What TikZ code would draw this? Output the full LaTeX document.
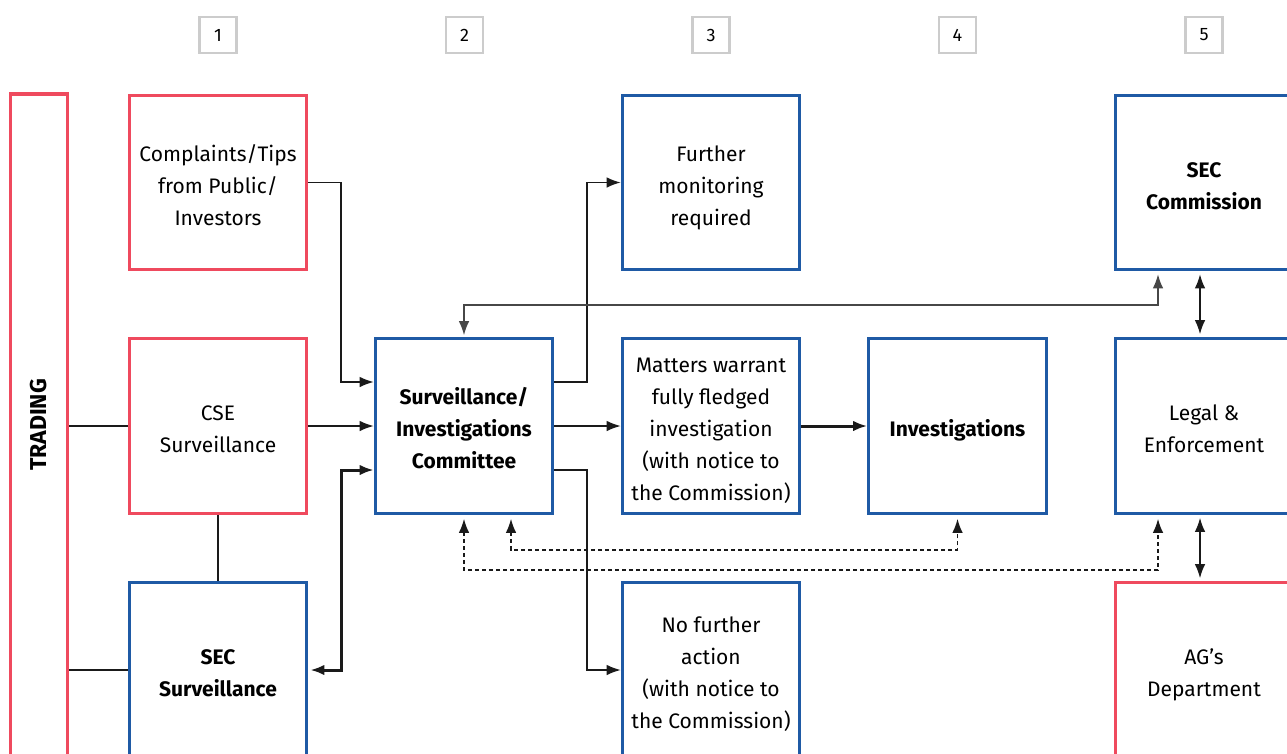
\documentclass[tikz,border=0pt]{standalone}
\usepackage{fontspec}
\setmainfont{Fira Sans}
\usetikzlibrary{arrows.meta}
\definecolor{cred}{HTML}{EF4A5E}
\definecolor{cblue}{HTML}{1F5AA5}
\definecolor{cgray}{HTML}{CCCCCC}
\definecolor{cline}{HTML}{1A1A1A}
\newcommand{\bxt}[1]{\begin{tabular}{@{}c@{}}\rule{0pt}{31pt}#1\end{tabular}}
\begin{document}
\begin{tikzpicture}[x=1pt,y=-1pt,
  box/.style={draw,line width=3.1pt,minimum width=177.5pt,minimum height=174.5pt,inner sep=0pt,
    font=\fontsize{21}{32}\selectfont},
  redbox/.style={box,draw=cred},
  bluebox/.style={box,draw=cblue},
  bold/.style={font=\fontsize{21}{32}\selectfont\bfseries},
  numbox/.style={draw=cgray,line width=2.4pt,minimum width=37pt,minimum height=36pt,inner sep=0pt,font=\fontsize{18}{20}\selectfont},
  conn/.style={draw=cline,line width=1.5pt},
  tip/.style={-{Latex[length=14pt,width=10.5pt]}},
  dtip/.style={{Latex[length=14pt,width=10.5pt]}-{Latex[length=14pt,width=10.5pt]}},
  thick2/.style={line width=3pt},
  dash2/.style={dash pattern=on 4pt off 3pt}
]
\useasboundingbox (0,0) rectangle (1287,753);
% column numbers
\node[numbox] (n1) at (218,35) {1};
\node[numbox] (n2) at (464.5,35) {2};
\node[numbox] (n3) at (711,35) {3};
\node[numbox] (n4) at (957.5,35) {4};
\node[numbox] (n5) at (1204,35) {5};
% boxes
\node[redbox,minimum width=57pt,minimum height=662pt] (trading) at (39,425) {};
\node[rotate=90,font=\fontsize{23}{26}\selectfont\bfseries] (tradinglabel) at (trading.center) {TRADING};
\node[redbox] (complaints) at (218,182.5) {\bxt{Complaints/Tips\\from Public/\\Investors}};
\node[redbox] (cse) at (218,426) {\bxt{CSE\\Surveillance}};
\node[bluebox,bold] (secsurv) at (218,670) {\bxt{SEC\\Surveillance}};
\node[bluebox,bold] (committee) at (464,426) {\bxt{Surveillance/\\Investigations\\Committee}};
\node[bluebox] (further) at (711,182.5) {\bxt{Further\\monitoring\\required}};
\node[bluebox] (matters) at (711,426) {\bxt{Matters warrant\\fully fledged\\investigation\\(with notice to\\the Commission)}};
\node[bluebox] (nofurther) at (711,670) {\bxt{No further\\action\\(with notice to\\the Commission)}};
\node[bluebox,bold] (invest) at (957.5,426) {\bxt{Investigations}};
\node[bluebox,bold] (seccomm) at (1204,182.5) {\bxt{SEC\\Commission}};
\node[bluebox] (legal) at (1204,426) {\bxt{Legal \&\\Enforcement}};
\node[redbox] (ag) at (1204,670) {\bxt{AG’s\\Department}};
% junction coordinates
\coordinate (jl) at (341,0);
\coordinate (jr) at (587,0);
\coordinate (jtop) at (0,305);
\coordinate (jd1) at (0,550);
\coordinate (jd2) at (0,570);
% connectors
\draw[conn] (trading.east |- cse.west) -- (cse.west);
\draw[conn] (trading.east |- secsurv.west) -- (secsurv.west);
\draw[conn] (cse.south) -- (secsurv.north);
\draw[conn,tip] (complaints.east) -- (complaints.east -| jl) |- ([yshift=44pt]committee.west);
\draw[conn,tip] (cse.east) -- (committee.west);
\draw[conn,thick2,dtip,shorten <=2pt] (secsurv.east) -- (secsurv.east -| jl) |- ([yshift=-44pt]committee.west);
\draw[conn,tip] ([yshift=44pt]committee.east) -- ([yshift=44pt]committee.east -| jr) |- (further.west);
\draw[conn,tip] (committee.east) -- (matters.west);
\draw[conn,tip] ([yshift=-44pt]committee.east) -- ([yshift=-44pt]committee.east -| jr) |- (nofurther.west);
\draw[conn,thick2,tip] (matters.east) -- (invest.west);
\draw[conn,draw=black!72,dtip,shorten <=2pt,shorten >=3pt] (committee.north) -- (committee.north |- jtop) -| ([xshift=-46pt]seccomm.south);
\draw[conn,dtip,shorten <=3pt,shorten >=3pt] ([xshift=-4pt]seccomm.south) -- ([xshift=-4pt]legal.north);
\draw[conn,dtip,shorten <=3pt,shorten >=3pt] ([xshift=-4pt]legal.south) -- ([xshift=-4pt]ag.north);
\draw[conn,dash2,dtip,shorten <=4pt,shorten >=4pt] ([xshift=47pt]committee.south) -- ([xshift=47pt]committee.south |- jd1) -| (invest.south);
\draw[conn,dash2,dtip,shorten <=4pt,shorten >=4pt] (committee.south) -- (committee.south |- jd2) -| ([xshift=-46pt]legal.south);
\end{tikzpicture}
\end{document}
